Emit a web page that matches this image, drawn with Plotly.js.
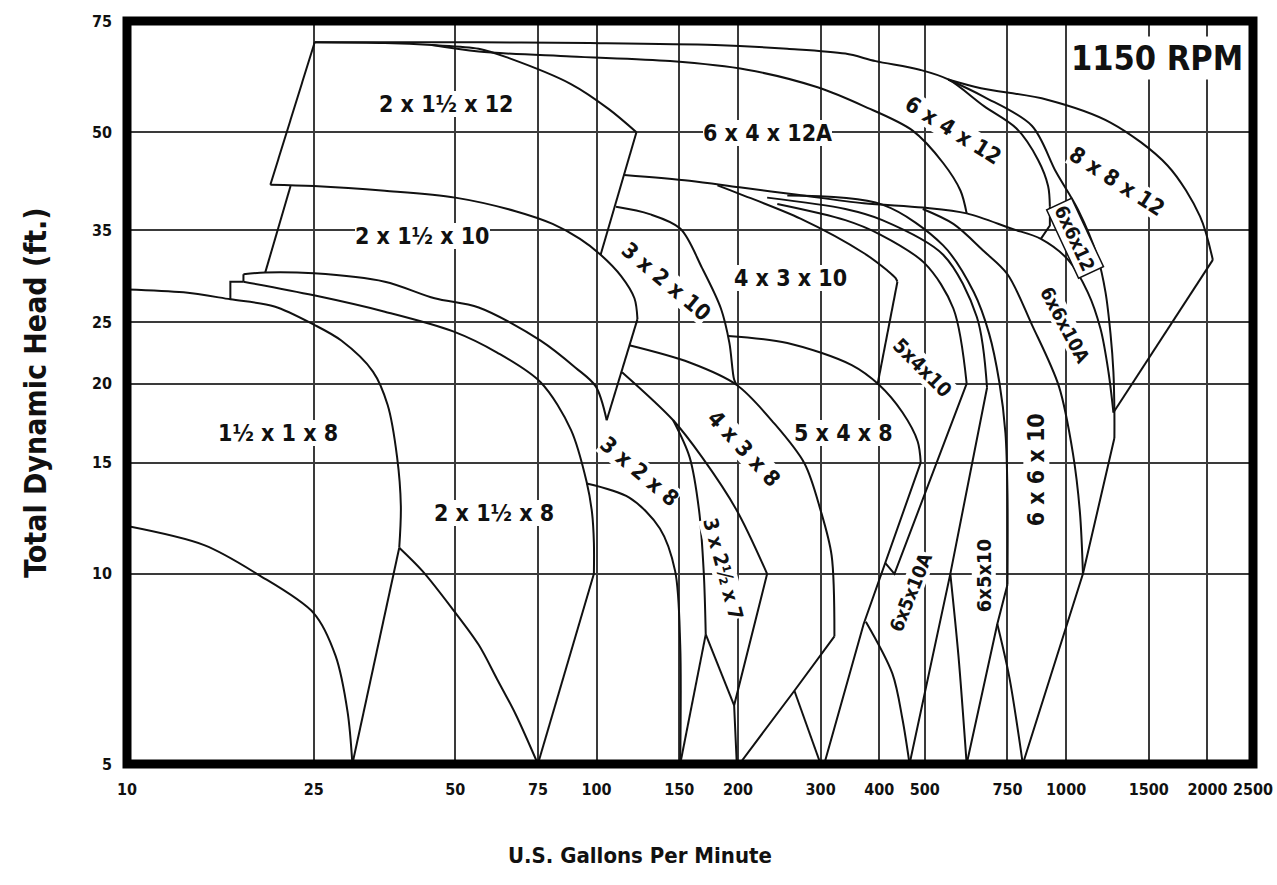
<!DOCTYPE html>
<html>
<head>
<meta charset="utf-8">
<script src="https://cdn.plot.ly/plotly-3.0.1.min.js"></script>
<style>
  html, body { margin: 0; padding: 0; background: #ffffff; }
  #chart { width: 1277px; height: 885px; }
</style>
</head>
<body>
<div id="chart"></div>
<script>
// ---------- Axis ticks ----------
const xTickVals = [10, 25, 50, 75, 100, 150, 200, 300, 400, 500, 750, 1000, 1500, 2000, 2500];
const xTickText = ['10', '25', '50', '75', '100', '150', '200', '300', '400', '500', '750', '1000', '1500', '2000', '2500'];
const yTickVals = [5, 10, 15, 20, 25, 35, 50, 75];
const yTickText = ['5', '10', '15', '20', '25', '35', '50', '75'];

// ---------- Pump curves (x = U.S. GPM, y = total dynamic head, ft) ----------
// 1½ x 1 x 8
const p1MaxX = [10, 13.2, 16.6, 20.6, 25, 28.6, 33.4, 35.9, 37.6, 38.3, 38.0];
const p1MaxY = [28.2, 27.9, 27.2, 26.5, 24.8, 23.4, 20.9, 18.5, 15.3, 12.8, 11.0];
const p1EdgeX = [38.0, 30.2];
const p1EdgeY = [11.0, 5];
const p1MinX = [10, 14.6, 18.9, 25, 27.8, 29.5, 30.2];
const p1MinY = [11.9, 11.1, 10.0, 8.66, 7.42, 6.04, 5];

// 2 x 1½ x 8
const p2StepX = [16.6, 16.6, 17.7];
const p2StepY = [27.2, 29.0, 29.0];
const p2MaxX = [17.7, 25, 35.4, 49.5, 61.4, 76.0, 88.2, 95.2, 97.8, 98.7, 98.7];
const p2MaxY = [29.0, 27.6, 26.0, 24.2, 22.4, 20.1, 16.9, 14.0, 12.5, 11.2, 10.0];
const p2EdgeX = [98.7, 75];
const p2EdgeY = [10.0, 5];
const p2MinX = [38.0, 42.6, 49.5, 56.1, 61.4, 67.2, 75];
const p2MinY = [11.0, 10.1, 8.77, 7.72, 6.81, 6.0, 5];

// 2 x 1½ x 12
const p3MaxX = [25.1, 35.4, 44.6, 56.1, 65.1, 88.2, 106.2, 121.6];
const p3MaxY = [69.4, 69.2, 68.7, 67.8, 65.5, 59.6, 54.4, 50];
const p3LeftX = [25.1, 20.2];
const p3LeftY = [69.4, 41.3];
const p3RightX = [121.6, 102.0];
const p3RightY = [50, 32.0];

// 2 x 1½ x 10
const p4MaxX = [20.2, 25, 35.4, 50, 67.2, 80.6, 92.2, 102.0, 112.8, 120.4, 122.2];
const p4MaxY = [41.3, 41.1, 40.4, 39.4, 37.5, 35.8, 33.9, 32.0, 29.6, 27.3, 25.3];
const p4ArmX = [122.2, 105.1];
const p4ArmY = [25.3, 17.5];
const p4LeftX = [22.3, 19.7];
const p4LeftY = [41.1, 30.0];
const p4StepX = [17.7, 17.7];
const p4StepY = [29.0, 29.8];
const p4MinX = [17.7, 19.7, 25, 35.4, 45.2, 56.1, 76.0, 90.2, 99.6, 105.1];
const p4MinY = [29.8, 30.0, 29.9, 29.0, 27.3, 26.4, 23.4, 21.2, 19.8, 17.5];

// 3 x 2 x 10
const p5TopX = [110.0, 129.7, 150.7, 167.7, 184.0, 191.8, 196.3, 198.9];
const p5TopY = [38.1, 37.1, 35.2, 30.5, 26.3, 23.2, 20.3, 19.9];

// 4 x 3 x 8
const p6MaxX = [117.4, 157.8, 198.9, 239.0, 277.2, 300, 316.6, 321.0];
const p6MaxY = [23.0, 21.6, 19.9, 17.3, 14.95, 12.6, 10.7, 7.96];
const p6EdgeX = [321.0, 263.8, 201.5];
const p6EdgeY = [7.96, 6.53, 5];
const p6MinX = [263.8, 300];
const p6MinY = [6.53, 5];

// 3 x 2½ x 7
const p7TopX = [113.3, 145.6, 167.7, 198.9, 230.8];
const p7TopY = [20.85, 17.5, 15.3, 12.6, 10];
const p7LeftX = [145.6, 157.8, 165.3, 169.2, 170.8];
const p7LeftY = [17.5, 15.3, 12.6, 10, 8.02];
const p7EdgeX = [230.8, 196.3, 198.9];
const p7EdgeY = [10, 6.19, 5];
const p7BaseX = [170.8, 196.3];
const p7BaseY = [8.02, 6.19];

// 3 x 2 x 8
const p8EdgeX = [170.8, 150.7];
const p8EdgeY = [8.02, 5];
const p8MinX = [95.2, 117.4, 136.4, 147.0, 150.7, 150.7];
const p8MinY = [13.9, 13.2, 11.8, 10.1, 7.72, 5];

// 4 x 3 x 10
const p9TopX = [114.5, 157.8, 201.5, 267.8, 370.5, 495.0, 614.0, 763.4, 883.4, 1010, 1112, 1184, 1231, 1261];
const p9TopY = [42.8, 41.9, 40.9, 39.8, 38.6, 38.0, 37.2, 35.2, 33.9, 31.4, 27.9, 24.4, 20.85, 18.0];
const p9LowX = [180.9, 201.5, 271.8, 370.5, 416.2, 433.0, 437.2];
const p9LowY = [41.2, 39.95, 36.5, 32.2, 30.2, 29.4, 29.0];
const p9EdgeX = [437.2, 396.4];
const p9EdgeY = [29.0, 19.9];

// 5 x 4 x 8
const p10MaxX = [190.6, 254.8, 349.5, 400, 448.3, 482.9, 490.1];
const p10MaxY = [23.8, 23.2, 21.4, 19.9, 18.0, 16.2, 15.0];
const p10EdgeX = [490.1, 412.1, 370.5, 305.4];
const p10EdgeY = [15.0, 10.4, 8.33, 5];

// 5 x 4 x 10
const p11MaxX = [242.6, 338.7, 400, 500, 575.2, 614.0];
const p11MaxY = [38.5, 36.3, 34.5, 31.0, 26.3, 20.0];
const p11EdgeX = [614.0, 430.9, 412.1];
const p11EdgeY = [20.0, 10, 10.4];

// 6 x 5 x 10A
const p12MaxX = [230.8, 338.7, 406.0, 547.1, 645.4, 678.5];
const p12MaxY = [39.4, 37.8, 36.3, 32.0, 25.5, 19.7];
const p12EdgeX = [678.5, 566.7, 464.0];
const p12EdgeY = [19.7, 10, 5];
const p12MinX = [374.5, 426.6, 448.3, 464.0];
const p12MinY = [8.4, 6.95, 5.88, 5];

// 6 x 5 x 10
const p13MaxX = [254.8, 406.0, 547.1, 636.0, 685.4, 720.7, 742.6, 750, 750];
const p13MaxY = [39.7, 38.4, 33.1, 27.9, 24.0, 20.1, 16.7, 13.4, 9.62];
const p13EdgeX = [750, 713.5, 614.0];
const p13EdgeY = [9.62, 8.33, 5];
const p13MinX = [566.7, 589.7, 614.0];
const p13MinY = [10, 7.42, 5];

// 6 x 6 x 10
const p14MaxX = [495.0, 575.2, 668.4, 750, 845.2, 965.2, 1034, 1070, 1086];
const p14MaxY = [37.8, 35.8, 32.4, 29.8, 24.8, 19.8, 15.5, 12.5, 10];
const p14MinX = [713.5, 756.6, 808.6];
const p14MinY = [8.33, 6.87, 5];

// 6 x 6 x 10A / 6 x 6 x 12
const p15OuterX = [561.0, 668.4, 845.2, 952.5, 1060, 1167, 1213, 1243, 1261, 1267, 1267];
const p15OuterY = [60.6, 56.9, 51.2, 43.2, 37.7, 31.7, 27.9, 24.0, 20.85, 18.0, 16.4];
const p15EdgeX = [1267, 1086, 808.6];
const p15EdgeY = [16.4, 10, 5];

// 8 x 8 x 12
const p16MaxX = [561.0, 658.5, 911.3, 1243, 1644, 1928, 2053];
const p16MaxY = [60.6, 58.7, 56.3, 51.8, 44.3, 36.8, 31.4];
const p16EdgeX = [2053, 1261];
const p16EdgeY = [31.4, 18.0];

// 6 x 4 x 12
const p17MaxX = [25.1, 56.1, 96.5, 178.6, 254.8, 338.7, 392.9, 487.7, 561.0, 668.4, 783.9, 871.5, 915.3, 923.3];
const p17MaxY = [69.4, 69.4, 69.2, 68.7, 67.8, 66.6, 64.8, 62.8, 60.6, 55.0, 50.7, 45.2, 41.1, 38.1];
const p17TickX = [923.3, 923.3, 883.4];
const p17TickY = [38.1, 35.6, 33.9];

// 6 x 4 x 12A
const p18MaxX = [44.6, 56.1, 88.2, 143.4, 209.1, 295.6, 370.5, 471.1, 547.1, 595.8, 614.0];
const p18MaxY = [68.7, 67.1, 65.9, 64.8, 62.8, 58.9, 55.0, 50.3, 44.7, 40.4, 37.2];

// ---------- Region labels ----------
const labelText = ['2 x 1½ x 12', '6 x 4 x 12A', '6 x 4 x 12', '8 x 8 x 12', '6x6x12', '6x6x10A',
  '2 x 1½ x 10', '3 x 2 x 10', '4 x 3 x 10', '5x4x10', '5 x 4 x 8', '3 x 2 x 8', '4 x 3 x 8',
  '3 x 2½ x 7', '1½ x 1 x 8', '2 x 1½ x 8', '6 x 6 x 10', '6x5x10A', '6x5x10'];
const labelX = [47.8, 230.8, 575.2, 1285, 1044, 997, 42.6, 140.6, 258.6, 495, 335.7, 123.4, 206.0,
  185.6, 21.0, 60.5, 864, 466.4, 668.4];
const labelY = [55.5, 49.8, 50.3, 41.8, 33.9, 24.8, 34.2, 29.0, 29.4, 21.2, 16.7, 14.5, 15.8,
  10.2, 16.7, 12.5, 14.6, 9.36, 9.95];
const labelAngle = [0, 0, 32, 33, 65, 62, 0, 40, 0, 45, 0, 40, 47, 75, 0, 0, -90, -68, -90];
const labelSize = [23, 23, 22, 22, 19, 19, 23, 22, 23, 20, 23, 22, 22, 20, 23, 23, 23, 19, 20];

// ---------- Build ----------
const FONT = "'Liberation Sans Narrow', 'DejaVu Sans Condensed', 'Liberation Sans', Arial, sans-serif";
const curveList = [
  [p1MaxX, p1MaxY, 'spline'], [p1EdgeX, p1EdgeY, 'linear'], [p1MinX, p1MinY, 'spline'],
  [p2StepX, p2StepY, 'linear'], [p2MaxX, p2MaxY, 'spline'], [p2EdgeX, p2EdgeY, 'linear'], [p2MinX, p2MinY, 'spline'],
  [p3MaxX, p3MaxY, 'spline'], [p3LeftX, p3LeftY, 'linear'], [p3RightX, p3RightY, 'linear'],
  [p4MaxX, p4MaxY, 'spline'], [p4ArmX, p4ArmY, 'linear'], [p4LeftX, p4LeftY, 'linear'],
  [p4StepX, p4StepY, 'linear'], [p4MinX, p4MinY, 'spline'],
  [p5TopX, p5TopY, 'spline'],
  [p6MaxX, p6MaxY, 'spline'], [p6EdgeX, p6EdgeY, 'linear'], [p6MinX, p6MinY, 'linear'],
  [p7TopX, p7TopY, 'spline'], [p7LeftX, p7LeftY, 'spline'], [p7EdgeX, p7EdgeY, 'linear'], [p7BaseX, p7BaseY, 'linear'],
  [p8EdgeX, p8EdgeY, 'linear'], [p8MinX, p8MinY, 'spline'],
  [p9TopX, p9TopY, 'spline'], [p9LowX, p9LowY, 'spline'], [p9EdgeX, p9EdgeY, 'linear'],
  [p10MaxX, p10MaxY, 'spline'], [p10EdgeX, p10EdgeY, 'linear'],
  [p11MaxX, p11MaxY, 'spline'], [p11EdgeX, p11EdgeY, 'linear'],
  [p12MaxX, p12MaxY, 'spline'], [p12EdgeX, p12EdgeY, 'linear'], [p12MinX, p12MinY, 'spline'],
  [p13MaxX, p13MaxY, 'spline'], [p13EdgeX, p13EdgeY, 'linear'], [p13MinX, p13MinY, 'spline'],
  [p14MaxX, p14MaxY, 'spline'], [p14MinX, p14MinY, 'spline'],
  [p15OuterX, p15OuterY, 'spline'], [p15EdgeX, p15EdgeY, 'linear'],
  [p16MaxX, p16MaxY, 'spline'], [p16EdgeX, p16EdgeY, 'linear'],
  [p17MaxX, p17MaxY, 'spline'], [p17TickX, p17TickY, 'linear'],
  [p18MaxX, p18MaxY, 'spline']
];

const traces = curveList.map(c => ({
  type: 'scatter', mode: 'lines', x: c[0], y: c[1],
  line: { color: '#111111', width: 2, shape: c[2], smoothing: 0.9 },
  hoverinfo: 'skip', showlegend: false
}));

const annotations = labelText.map((t, i) => ({
  x: Math.log10(labelX[i]), y: Math.log10(labelY[i]), xref: 'x', yref: 'y',
  xanchor: 'center', yanchor: 'middle',
  text: t, showarrow: false, textangle: labelAngle[i],
  font: { family: FONT, size: labelSize[i], color: '#111111', weight: 700 },
  bgcolor: 'rgba(255,255,255,1)', borderpad: t === '6x6x12' ? 2 : 0,
  bordercolor: t === '6x6x12' ? '#111111' : 'rgba(0,0,0,0)', borderwidth: t === '6x6x12' ? 1.5 : 0
}));
annotations.push({
  xref: 'paper', yref: 'paper', x: 0.915, y: 0.950, xanchor: 'center', yanchor: 'middle',
  text: '1150 RPM', showarrow: false,
  font: { family: FONT, size: 34, color: '#111111', weight: 700 }, bgcolor: 'rgba(255,255,255,1)'
});
// x-axis title: centred on the page (not the plot area) as in the original
annotations.push({
  xref: 'paper', yref: 'paper', x: 0.4556, y: -0.1225, xanchor: 'center', yanchor: 'middle',
  text: 'U.S. Gallons Per Minute', showarrow: false,
  font: { family: FONT, size: 22, color: '#111111', weight: 700 }
});

const layout = {
  width: 1277, height: 885,
  margin: { l: 127, r: 24, t: 21, b: 121 },
  paper_bgcolor: '#ffffff', plot_bgcolor: '#ffffff',
  showlegend: false,
  font: { family: FONT, color: '#111111' },
  xaxis: {
    type: 'log', range: [1, Math.log10(2500)], fixedrange: true,
    tickvals: xTickVals, ticktext: xTickText, ticks: '',
    tickfont: { family: FONT, size: 16, color: '#111111', weight: 700 },
    ticklabelstandoff: 14,
    showgrid: true, gridcolor: '#3a3a3a', gridwidth: 2, zeroline: false, showline: false,
    title: { text: '' }
  },
  yaxis: {
    type: 'log', range: [Math.log10(5), Math.log10(75)], fixedrange: true,
    tickvals: yTickVals, ticktext: yTickText, ticks: '',
    tickfont: { family: FONT, size: 16, color: '#111111', weight: 700 },
    ticklabelstandoff: 14,
    showgrid: true, gridcolor: '#3a3a3a', gridwidth: 2, zeroline: false, showline: false,
    title: { text: 'Total Dynamic Head (ft.)', standoff: 36,
      font: { family: FONT, size: 30, color: '#111111', weight: 700 } }
  },
  shapes: [{
    type: 'rect', xref: 'paper', yref: 'paper', x0: 0, x1: 1, y0: 0, y1: 1,
    line: { color: '#000000', width: 9 }, layer: 'above'
  }],
  annotations: annotations
};

Plotly.newPlot('chart', traces, layout, { displayModeBar: false, staticPlot: true });
</script>
</body>
</html>
